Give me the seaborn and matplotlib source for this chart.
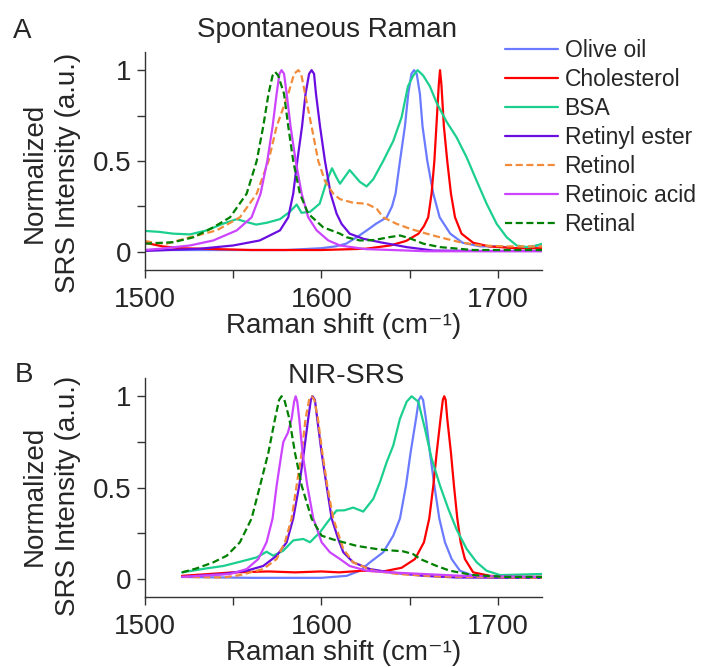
import numpy as np
import pandas as pd
import matplotlib
matplotlib.use("Agg")
import matplotlib.pyplot as plt
import seaborn as sns

# nombres y colores de cada muestra (mismo orden que la leyenda)
samples = ['Olive oil', 'Cholesterol', 'BSA', 'Retinyl ester', 'Retinol', 'Retinoic acid', 'Retinal']
colors = ['#6B7BFF', '#FF0000', '#1BCF8F', '#6A0DE0', '#F28C3A', '#CC44FF', '#008000']
dashed = ['Retinol', 'Retinal']

# ---------------- A: Spontaneous Raman ----------------
olive_a_x = [1500, 1550, 1580, 1600, 1608, 1614, 1620, 1626, 1631, 1637, 1640, 1642, 1644.5, 1647.3, 1649.2,
             1651, 1652.5, 1654, 1655.8, 1657.3, 1660, 1663.4, 1667, 1673, 1680, 1690, 1700, 1710, 1720, 1725]
olive_a_y = [0.01, 0.01, 0.01, 0.02, 0.03, 0.045, 0.08, 0.12, 0.155, 0.19, 0.25, 0.32, 0.5, 0.69, 0.87,
             0.98, 1.0, 0.98, 0.87, 0.69, 0.5, 0.32, 0.19, 0.10, 0.05, 0.03, 0.03, 0.02, 0.03, 0.04]

chol_a_x = [1500, 1505, 1510, 1520, 1540, 1560, 1580, 1600, 1625, 1639, 1648, 1655, 1658, 1660.5, 1662.4,
            1664, 1665.5, 1666.5, 1667.2, 1668, 1669.4, 1671.3, 1673.4, 1675.7, 1679.4, 1686, 1695, 1710, 1725]
chol_a_y = [0.05, 0.04, 0.03, 0.02, 0.015, 0.01, 0.01, 0.01, 0.017, 0.035, 0.06, 0.10, 0.14, 0.19, 0.32,
            0.5, 0.75, 0.92, 1.0, 0.92, 0.69, 0.5, 0.32, 0.19, 0.10, 0.05, 0.03, 0.02, 0.02]

bsa_a_x = [1500, 1508, 1516, 1525.5, 1535, 1544, 1552, 1557.6, 1563, 1569, 1576.5, 1582, 1586, 1588.7, 1593.5,
           1599, 1603, 1606, 1608.5, 1610.5, 1616, 1621.8, 1625.6, 1629.4, 1635, 1640.7, 1645.4, 1649, 1652,
           1654.5, 1657.7, 1661.5, 1665.3, 1671, 1676.6, 1682.3, 1688, 1693.6, 1699.3, 1705, 1710.6, 1716.3,
           1720, 1725]
bsa_a_y = [0.115, 0.11, 0.10, 0.096, 0.118, 0.154, 0.18, 0.164, 0.15, 0.16, 0.18, 0.22, 0.26, 0.215, 0.22,
           0.265, 0.39, 0.46, 0.41, 0.375, 0.45, 0.385, 0.36, 0.40, 0.50, 0.61, 0.74, 0.91, 0.97,
           1.0, 0.97, 0.91, 0.82, 0.715, 0.63, 0.52, 0.39, 0.265, 0.154, 0.08, 0.035, 0.026,
           0.03, 0.044]

ester_a_x = [1500, 1531, 1550, 1565, 1576.5, 1581.2, 1584, 1586.3, 1589, 1591, 1593, 1594.4, 1595.8, 1596.9,
             1599.2, 1602, 1605.2, 1608.6, 1611.4, 1616, 1623.7, 1633.2, 1648.3, 1663.4, 1690, 1725]
ester_a_y = [0.005, 0.017, 0.035, 0.0625, 0.118, 0.19, 0.32, 0.5, 0.69, 0.87, 0.98, 1.0, 0.98, 0.87,
             0.69, 0.5, 0.32, 0.21, 0.154, 0.10, 0.072, 0.053, 0.026, 0.007, 0.005, 0.005]

retinol_a_x = [1500, 1505, 1512.3, 1525.5, 1540.6, 1553.8, 1563.3, 1570, 1574.6, 1581.2, 1584.5, 1586.9, 1588.5,
               1590.7, 1594.4, 1598.2, 1602, 1606.7, 1610.5, 1618, 1625.6, 1631.3, 1635, 1642.6, 1650.2,
               1659.6, 1667.2, 1678.5, 1689.8, 1705, 1725]
retinol_a_y = [0.06, 0.05, 0.045, 0.08, 0.118, 0.19, 0.32, 0.5, 0.69, 0.87, 0.98, 1.0, 0.98,
               0.87, 0.69, 0.5, 0.39, 0.32, 0.29, 0.27, 0.265, 0.237, 0.19, 0.154, 0.127,
               0.10, 0.08, 0.053, 0.035, 0.03, 0.03]

acid_a_x = [1500, 1508.5, 1525.5, 1538.7, 1552, 1560.4, 1565.5, 1569.3, 1572.3, 1574.6, 1576.2, 1577.4, 1578.8,
            1580.3, 1582.5, 1585.4, 1588.8, 1592.5, 1597.3, 1603.9, 1610.5, 1625, 1640, 1660, 1725]
acid_a_y = [0.01, 0.017, 0.035, 0.0625, 0.118, 0.19, 0.32, 0.5, 0.69, 0.87, 0.98, 1.0, 0.98,
            0.87, 0.69, 0.5, 0.32, 0.19, 0.118, 0.0625, 0.035, 0.015, 0.01, 0.003, 0.003]

retinal_a_x = [1500, 1516, 1527.4, 1538.7, 1548.2, 1557.6, 1563.3, 1567, 1570, 1572.3, 1573.8, 1575.5, 1578.8,
               1581.2, 1584, 1587.8, 1592.5, 1601, 1610.5, 1614.3, 1621.8, 1630, 1638, 1644.5, 1650,
               1657.7, 1667.2, 1686, 1725]
retinal_a_y = [0.045, 0.053, 0.08, 0.135, 0.19, 0.32, 0.5, 0.69, 0.87, 0.97, 0.99, 0.97, 0.87,
               0.69, 0.5, 0.32, 0.21, 0.135, 0.10, 0.08, 0.0625, 0.065, 0.08, 0.09, 0.075,
               0.045, 0.026, 0.01, 0.01]

# ---------------- B: NIR-SRS ----------------
olive_b_x = [1521, 1560, 1600, 1614.3, 1621.8, 1627.5, 1635, 1640.7, 1644.5, 1647.9, 1650.5, 1653.6, 1655.2,
             1656.4, 1657.6, 1659.2, 1661.5, 1664, 1666.8, 1670, 1673.8, 1678.5, 1686, 1700, 1725]
olive_b_y = [0.01, 0.005, 0.005, 0.016, 0.044, 0.09, 0.145, 0.236, 0.33, 0.51, 0.69, 0.877, 0.98,
             1.0, 0.98, 0.877, 0.69, 0.51, 0.33, 0.2, 0.108, 0.044, 0.016, 0.005, 0.005]

chol_b_x = [1521, 1535, 1550, 1570, 1585, 1600, 1610, 1623.5, 1635, 1645.4, 1653, 1658.1, 1661.1, 1663.4,
            1665.3, 1667.5, 1668.8, 1669.6, 1670.4, 1671.3, 1673.4, 1675.1, 1677, 1678.9, 1681.3, 1686,
            1695.5, 1710, 1725]
chol_b_y = [0.016, 0.025, 0.035, 0.04, 0.035, 0.04, 0.035, 0.044, 0.04, 0.06, 0.108, 0.2, 0.33, 0.51,
            0.69, 0.877, 0.98, 1.0, 0.98, 0.877, 0.69, 0.51, 0.33, 0.2, 0.108, 0.035,
            0.016, 0.01, 0.01]

bsa_b_x = [1521, 1535, 1544.4, 1553.8, 1563.3, 1568.9, 1572.7, 1578.4, 1584, 1589.7, 1593.5, 1599.2, 1604.8,
           1608.6, 1613, 1618, 1623.7, 1629.4, 1633.2, 1637, 1640.7, 1644.5, 1648.3, 1651.1, 1654.9, 1658.7,
           1662.4, 1667.2, 1671.9, 1676.6, 1682.3, 1688, 1693.6, 1701.2, 1725]
bsa_b_y = [0.035, 0.057, 0.07, 0.093, 0.117, 0.148, 0.126, 0.154, 0.21, 0.218, 0.2, 0.255, 0.328,
           0.374, 0.375, 0.39, 0.368, 0.438, 0.53, 0.64, 0.73, 0.877, 0.97, 1.0, 0.97, 0.82,
           0.66, 0.51, 0.383, 0.27, 0.163, 0.09, 0.044, 0.02, 0.026]

ester_b_x = [1521, 1544.4, 1557.6, 1567, 1574.6, 1580.3, 1584, 1587.4, 1590, 1592.5, 1594, 1595, 1596.3,
             1597.6, 1600.1, 1602.9, 1605.8, 1609.5, 1612.4, 1618, 1627.5, 1638.8, 1657.7, 1676.6, 1725]
ester_b_y = [0.01, 0.026, 0.044, 0.07, 0.126, 0.2, 0.33, 0.51, 0.69, 0.877, 0.98, 1.0, 0.98,
             0.877, 0.69, 0.51, 0.33, 0.218, 0.145, 0.09, 0.053, 0.035, 0.016, 0.007, 0.005]

retinol_b_x = [1521, 1544.4, 1553.8, 1567, 1574.6, 1579.3, 1583.1, 1585.9, 1588.8, 1591, 1593, 1594.5, 1596,
               1598, 1600.5, 1603.3, 1606.7, 1612.4, 1618, 1629.4, 1643, 1667, 1725]
retinol_b_y = [0.01, 0.007, 0.02, 0.053, 0.108, 0.2, 0.33, 0.51, 0.69, 0.877, 0.98, 1.0, 0.98,
               0.877, 0.69, 0.51, 0.33, 0.163, 0.09, 0.044, 0.026, 0.012, 0.005]

acid_b_x = [1521, 1548.2, 1557.6, 1564.2, 1568.9, 1572.3, 1574.6, 1577.4, 1578.4, 1581, 1583.1, 1584.5, 1585.4,
            1586.3, 1587.4, 1589.3, 1592, 1595.4, 1600.1, 1604.8, 1610.5, 1616, 1625.6, 1638.8, 1657.7,
            1680, 1725]
acid_b_y = [0.01, 0.026, 0.053, 0.108, 0.2, 0.33, 0.51, 0.69, 0.75, 0.8, 0.877, 0.97, 1.0,
            0.97, 0.877, 0.69, 0.51, 0.33, 0.2, 0.145, 0.108, 0.07, 0.044, 0.035, 0.026,
            0.016, 0.01]

retinal_b_x = [1521, 1529.3, 1538.7, 1546.3, 1553.8, 1560.4, 1565.2, 1569.9, 1573.7, 1576, 1577.4, 1579, 1581.8,
               1585, 1588.8, 1594.4, 1600.1, 1606.7, 1610.5, 1620, 1633.2, 1646.4, 1652, 1656, 1665.3,
               1672.8, 1686, 1705, 1725]
retinal_b_y = [0.035, 0.057, 0.09, 0.126, 0.2, 0.33, 0.51, 0.69, 0.877, 0.98, 1.0, 0.98, 0.877,
               0.69, 0.51, 0.33, 0.236, 0.215, 0.205, 0.18, 0.16, 0.15, 0.135, 0.108, 0.07,
               0.044, 0.02, 0.01, 0.01]


def armar_df(curvas):
    # pasamos las curvas a formato largo para seaborn
    partes = []
    for nombre, (x, y) in zip(samples, curvas):
        partes.append(pd.DataFrame({'shift': x, 'intensity': y, 'sample': nombre}))
    return pd.concat(partes, ignore_index=True)


df_a = armar_df([(olive_a_x, olive_a_y), (chol_a_x, chol_a_y), (bsa_a_x, bsa_a_y), (ester_a_x, ester_a_y),
                 (retinol_a_x, retinol_a_y), (acid_a_x, acid_a_y), (retinal_a_x, retinal_a_y)])
df_b = armar_df([(olive_b_x, olive_b_y), (chol_b_x, chol_b_y), (bsa_b_x, bsa_b_y), (ester_b_x, ester_b_y),
                 (retinol_b_x, retinol_b_y), (acid_b_x, acid_b_y), (retinal_b_x, retinal_b_y)])

sns.set_style("ticks")
plt.rcParams['font.family'] = ['Liberation Sans', 'DejaVu Sans']

paleta = dict(zip(samples, colors))
guiones = {s: ((3.2, 1.6) if s in dashed else '') for s in samples}

fig = plt.figure(figsize=(7.02, 6.67), dpi=100)
ax_a = fig.add_axes([145 / 702, 1 - 270 / 667, 397 / 702, 218 / 667])
ax_b = fig.add_axes([145 / 702, 1 - 597 / 667, 397 / 702, 219 / 667])

for ax, df, leg, yc in [(ax_a, df_a, True, 0.445), (ax_b, df_b, False, 0.46)]:
    sns.lineplot(data=df, x='shift', y='intensity', hue='sample', style='sample',
                 palette=paleta, dashes=guiones, hue_order=samples, style_order=samples,
                 estimator=None, sort=True, lw=1.6, ax=ax, legend=leg)
    ax.set_xlim(1500, 1725)
    ax.set_ylim(-0.1, 1.1)
    ax.set_xticks([1500, 1600, 1700])
    ax.set_xticks([1550, 1650], minor=True)
    ax.set_yticks([0, 0.5, 1])
    ax.set_yticklabels(['0', '0.5', '1'])
    ax.set_yticks([0.25, 0.75], minor=True)
    ax.tick_params(which='both', length=6, width=1, color='#333333', direction='out')
    ax.tick_params(axis='x', labelsize=20, pad=6)
    ax.tick_params(axis='y', labelsize=20, pad=4)
    sns.despine(ax=ax)
    for sp in ['left', 'bottom']:
        ax.spines[sp].set_color('#333333')
        ax.spines[sp].set_linewidth(1)
    ax.set_xlabel('Raman shift (cm\u207b\u00b9)', fontsize=20, labelpad=0)
    # la etiqueta del eje y va en dos renglones
    ax.set_ylabel('SRS Intensity (a.u.)', fontsize=20)
    ax.yaxis.set_label_coords(-0.16, yc)
    ax.text(-0.245, yc, 'Normalized', rotation=90, fontsize=20, ha='right', va='center',
            transform=ax.transAxes)

# leyenda a la derecha, fuera del eje
sns.move_legend(ax_a, 'upper left', bbox_to_anchor=(505 / 702, 1 - 39 / 667),
                bbox_transform=fig.transFigure, frameon=False, title=None, fontsize=16.5,
                handlelength=2.3, handletextpad=0.3, labelspacing=0.26, borderpad=0, borderaxespad=0)

# títulos y letras de panel
fig.text(197 / 702, 1 - 36.7 / 667, 'Spontaneous Raman', fontsize=20, ha='left', va='baseline')
fig.text(346.5 / 702, 1 - 382.7 / 667, 'NIR-SRS', fontsize=20.5, ha='center', va='baseline')
fig.text(13 / 702, 1 - 38 / 667, 'A', fontsize=20, ha='left', va='baseline')
fig.text(15 / 702, 1 - 381.7 / 667, 'B', fontsize=20, ha='left', va='baseline')

fig.savefig('out.png', dpi=100)
